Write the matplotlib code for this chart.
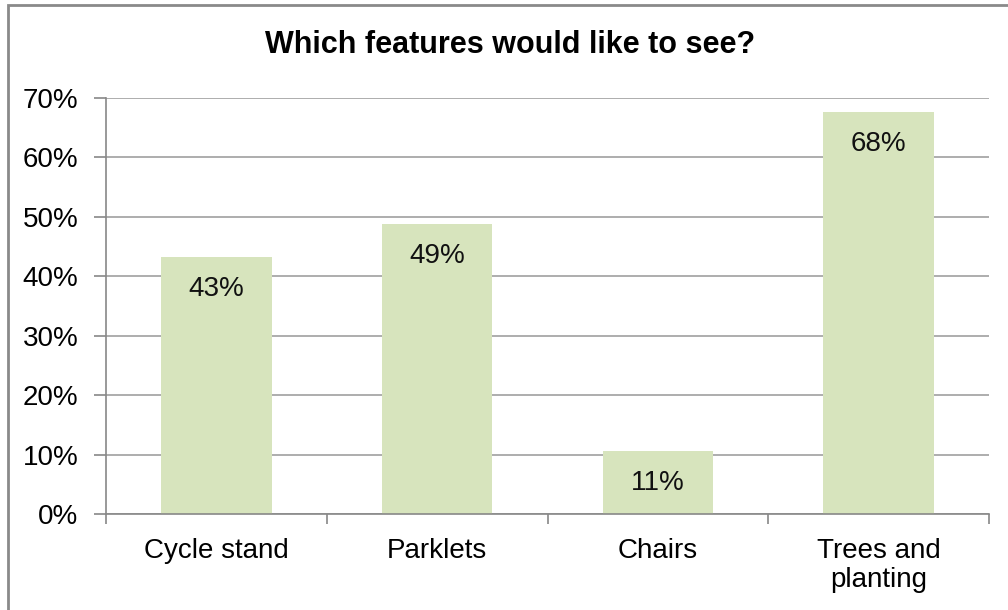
import matplotlib
matplotlib.use("Agg")
import matplotlib.pyplot as plt
from matplotlib.patches import Rectangle
from matplotlib.ticker import FixedLocator, FuncFormatter

plt.rcParams['font.family'] = ['Liberation Sans', 'DejaVu Sans']

categories = ['Cycle stand', 'Parklets', 'Chairs', 'Trees and\nplanting']
values = [43.2, 48.8, 10.6, 67.7]
labels = ['43%', '49%', '11%', '68%']
title = 'Which features would like to see?'

W, H = 1008, 610
fig = plt.figure(figsize=(W / 100, H / 100), dpi=100)
ax = fig.add_axes([106 / W, 1 - 514 / H, (989 - 106) / W, (514 - 98) / H])

x = list(range(len(categories)))
ax.bar(x, values, width=0.5, color='#D7E4BD', zorder=2)

for xi, v, lab in zip(x, values, labels):
    ax.annotate(lab, (xi, v), xytext=(0, -23), textcoords='offset points',
                ha='center', va='center', fontsize=20, color='#111111', zorder=3)

ax.set_xlim(-0.5, len(categories) - 0.5)
ax.set_ylim(0, 70)
ax.set_yticks(range(0, 71, 10))
ax.yaxis.set_major_formatter(FuncFormatter(lambda v, p: f'{int(v)}%'))
ax.yaxis.grid(True, color='#A0A0A0', lw=1.2, zorder=1)

ax.set_xticks(x)
ax.set_xticklabels(categories, fontsize=20, linespacing=1.18)
ax.xaxis.set_minor_locator(FixedLocator([i - 0.5 for i in range(len(categories) + 1)]))
ax.tick_params(axis='x', which='major', length=0, pad=17)
ax.tick_params(axis='x', which='minor', length=7, width=1.2, color='#888888', direction='out')
ax.tick_params(axis='y', length=9, width=1.2, color='#888888', labelsize=20, pad=11)

for s in ['top', 'right']:
    ax.spines[s].set_visible(False)
for s in ['left', 'bottom']:
    ax.spines[s].set_color('#888888')
    ax.spines[s].set_linewidth(1.2)

fig.text(510 / W, 1 - 45 / H, title, ha='center', va='center', fontsize=22, fontweight='bold')

fig.patches.append(Rectangle((8 / W, -0.01), 1.02, 1 - 5 / H + 0.01, transform=fig.transFigure,
                             fill=False, edgecolor='#8A8A8A', lw=2))

fig.savefig('out.png', dpi=100)
